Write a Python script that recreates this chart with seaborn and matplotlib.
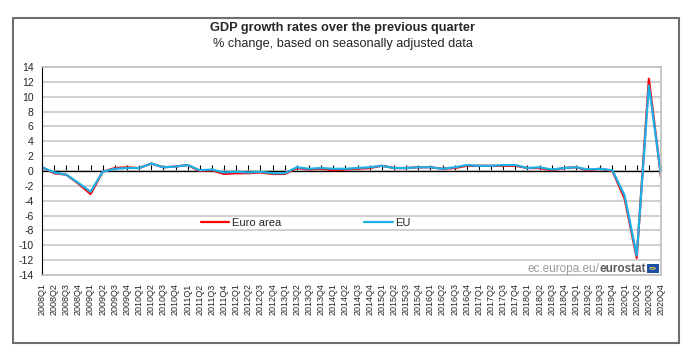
import matplotlib
matplotlib.use("Agg")
import matplotlib.pyplot as plt
import seaborn as sns
import pandas as pd
from matplotlib.patches import Rectangle, Circle

years = list(range(2008, 2021))
quarters = [f"{y}Q{q}" for y in years for q in range(1, 5)]

euro_area = [0.5, -0.3, -0.5, -1.7,
             -3.1, -0.1, 0.4, 0.5,
             0.4, 1.0, 0.5, 0.6,
             0.8, 0.0, 0.1, -0.4,
             -0.3, -0.3, -0.2, -0.4,
             -0.4, 0.4, 0.2, 0.3,
             0.1, 0.2, 0.3, 0.4,
             0.7, 0.4, 0.4, 0.5,
             0.5, 0.3, 0.4, 0.7,
             0.7, 0.7, 0.7, 0.7,
             0.4, 0.4, 0.1, 0.4,
             0.5, 0.1, 0.3, 0.0,
             -3.7, -11.7, 12.4, -0.8]

eu = [0.5, -0.2, -0.5, -1.6,
      -2.8, -0.1, 0.3, 0.4,
      0.4, 1.0, 0.5, 0.6,
      0.8, 0.1, 0.2, -0.2,
      -0.1, -0.2, -0.1, -0.3,
      -0.3, 0.5, 0.3, 0.4,
      0.3, 0.3, 0.4, 0.5,
      0.7, 0.4, 0.4, 0.5,
      0.5, 0.3, 0.5, 0.8,
      0.7, 0.7, 0.8, 0.8,
      0.4, 0.5, 0.2, 0.4,
      0.5, 0.2, 0.3, 0.1,
      -3.3, -11.4, 11.5, -0.5]

df = pd.DataFrame({"x": range(len(quarters)), "Euro area": euro_area, "EU": eu})

sns.set_style("white")
plt.rcParams['font.family'] = ['Liberation Sans', 'DejaVu Sans']

fig = plt.figure(figsize=(7, 3.58), dpi=100)
ax = fig.add_axes([42/700, 1 - 275/358, 619/700, 208/358])

red = "#FF0000"
blue = "#1CB0E8"
sns.lineplot(data=df, x="x", y="Euro area", ax=ax, color=red, lw=1.6, label="Euro area")
sns.lineplot(data=df, x="x", y="EU", ax=ax, color=blue, lw=1.6, label="EU")

ax.set_xlim(0, len(quarters) - 1)
ax.set_ylim(-14, 14)
ax.set_yticks(range(-14, 15, 2))
ax.set_yticklabels([str(v) for v in range(-14, 15, 2)], fontsize=7.5)
ax.set_xticks(range(len(quarters)))
ax.set_xticklabels(quarters, rotation=90, fontsize=6.5, va="top", ha="center")
ax.tick_params(axis="x", length=0, pad=6)
ax.tick_params(axis="y", length=4, width=0.8, color="black", direction="out", pad=2)
ax.set_xlabel("")
ax.set_ylabel("")

ax.yaxis.grid(True, color="#C8C8C8", lw=1.2)
ax.xaxis.grid(False)
ax.set_axisbelow(True)
for s in ["top", "right", "bottom"]:
    ax.spines[s].set_color("#BFBFBF")
    ax.spines[s].set_linewidth(1.2)
ax.spines["left"].set_color("black")
ax.spines["left"].set_linewidth(0.8)

# zero axis with tick marks
ax.axhline(0, color="black", lw=0.9, zorder=1.5)
sec = ax.secondary_xaxis(0.5)
sec.set_xticks(range(len(quarters)))
sec.set_xticklabels([])
sec.tick_params(axis="x", length=4, width=0.8, direction="out", color="black")
sec.spines["bottom"].set_visible(False)

ax.legend(loc="center left", bbox_to_anchor=(0.24, 0.25), ncol=2, frameon=False,
          fontsize=8, handlelength=2.6, handletextpad=0.2, columnspacing=7.5)

# watermark
t2 = ax.text(0.975, 0.03, "eurostat", transform=ax.transAxes, ha="right", va="center",
             fontsize=8.5, fontweight="bold", color="#5E5E5E")
ax.annotate("ec.europa.eu/", xy=(0, 0.5), xycoords=t2, ha="right", va="center",
            fontsize=8.5, color="#9A9A9A")
ax.add_patch(Rectangle((0.977, 0.012), 0.019, 0.04, transform=ax.transAxes,
                       facecolor="#1F4FA8", edgecolor="none", zorder=5, clip_on=False))
ax.add_patch(Circle((0.9865, 0.032), 0.0045, transform=ax.transAxes, fill=False,
                    edgecolor="#E8D44D", lw=0.6, zorder=6, clip_on=False))

fig.text(0.49, 1 - 28/358, "GDP growth rates over the previous quarter", ha="center", va="center",
         fontsize=9.2, fontweight="bold")
fig.text(0.49, 1 - 44/358, "% change, based on seasonally adjusted data", ha="center", va="center",
         fontsize=9.2)

fig.patches.append(Rectangle((13/700, 1 - 343/358), 666/700, 325/358, transform=fig.transFigure,
                             fill=False, edgecolor="#6E6E6E", lw=1.5))

fig.savefig("out.png", dpi=100)
